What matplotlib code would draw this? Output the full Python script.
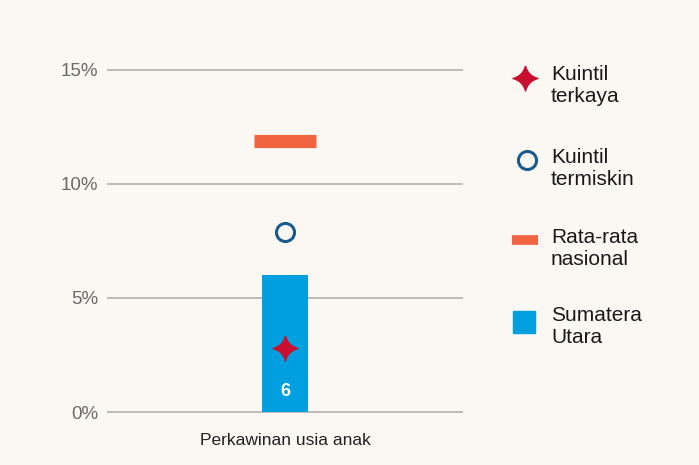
import numpy as np
import matplotlib.pyplot as plt
from matplotlib.path import Path

# data
categories = ['Perkawinan usia anak']
province = [6]          # Sumatera Utara
poorest = [7.9]         # Kuintil termiskin
richest = [2.8]         # Kuintil terkaya
national = [11.9]       # Rata-rata nasional
yticks = [0, 5, 10, 15]
legend_labels = ['Kuintil\nterkaya', 'Kuintil\ntermiskin', 'Rata-rata\nnasional', 'Sumatera\nUtara']

BG = '#fbf8f3'
C_BAR = '#009fdf'
C_AVG = '#f0643f'
C_STAR = '#c8102e'
C_CIRC = '#1b5a8c'

plt.rcParams['font.family'] = ['Liberation Sans', 'DejaVu Sans']


def star_path():
    '''four pointed star with concave sides'''
    c = 0.2
    verts = [(0, 1), (c, c), (1, 0), (c, -c), (0, -1), (-c, -c), (-1, 0), (-c, c), (0, 1)]
    codes = [Path.MOVETO] + [Path.CURVE3, Path.CURVE3] * 4
    return Path(verts, codes)


STAR = star_path()

fig = plt.figure(figsize=(6.99, 4.65), dpi=100)
fig.patch.set_facecolor(BG)
ax = fig.add_axes([108 / 699, 1 - 412 / 465, 354 / 699, 342 / 465])
ax.set_facecolor(BG)

x = np.arange(len(categories))
ax.bar(x, province, width=0.26, color=C_BAR, zorder=3)
ax.hlines(national, x - 0.175, x + 0.175, colors=C_AVG, lw=9.5, capstyle='butt', zorder=3)
ax.plot(x, poorest, ls='none', marker='o', ms=13, mfc='none', mec=C_CIRC, mew=2.2, zorder=4)
ax.plot(x, richest, ls='none', marker=STAR, ms=18, color=C_STAR, zorder=4)
for xi, v in zip(x, province):
    ax.text(xi, 0.9, str(v), ha='center', va='center', color='white',
            fontsize=13, fontweight='bold', zorder=5)

ax.set_xlim(-1, 1)
ax.set_ylim(0, 15)
ax.set_yticks(yticks)
ax.set_yticklabels(['{}%'.format(t) for t in yticks])
ax.set_xticks(x)
ax.set_xticklabels(categories, fontsize=12.5, color='#222222')
ax.tick_params(axis='y', length=0, pad=7, labelsize=13.5, labelcolor='#6b6b6b')
ax.tick_params(axis='x', length=0, pad=15)
ax.grid(axis='y', color='#bdbbb8', lw=1.4, zorder=0)
ax.set_axisbelow(True)
for s in ax.spines.values():
    s.set_visible(False)
for gl in ax.get_ygridlines():
    gl.set_clip_on(False)

# legend drawn by hand at the right
lax = fig.add_axes([0, 0, 1, 1])
lax.set_xlim(0, 699)
lax.set_ylim(465, 0)
lax.axis('off')
lax.patch.set_alpha(0)
lax.plot(525, 78, marker=STAR, ms=18, color=C_STAR, ls='none')
lax.plot(527, 160, marker='o', ms=13, mfc='none', mec=C_CIRC, mew=2.2, ls='none')
lax.plot([512, 538], [240, 240], color=C_AVG, lw=7, solid_capstyle='butt')
lax.plot(524, 322, marker='s', ms=16, color=C_BAR, ls='none')
for y, lab in zip([86, 168, 248, 326], legend_labels):
    lax.text(551, y, lab, ha='left', va='center', fontsize=15,
             color='#1a1a1a', linespacing=1.2)

fig.savefig('out.png', dpi=100, facecolor=BG)
